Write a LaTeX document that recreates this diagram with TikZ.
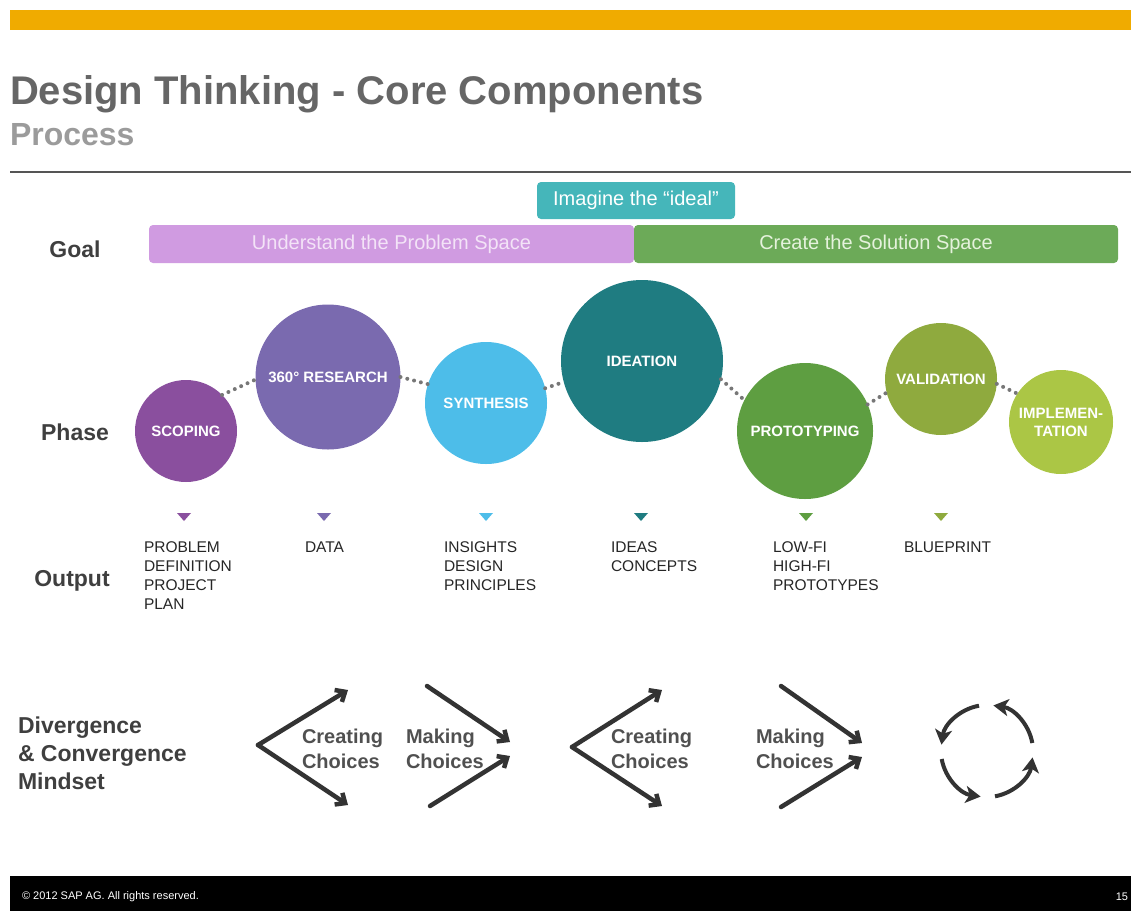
\documentclass[tikz,border=0pt]{standalone}
\usepackage{fontspec}
\setmainfont{Liberation Sans}
\usetikzlibrary{arrows.meta}

\definecolor{sapgold}{HTML}{F0AB00}
\definecolor{titlegray}{HTML}{666666}
\definecolor{subgray}{HTML}{9B9B9B}
\definecolor{rulegray}{HTML}{555555}
\definecolor{labelgray}{HTML}{3F3F3F}
\definecolor{idealcol}{HTML}{45B6BA}
\definecolor{problemcol}{HTML}{D09BE1}
\definecolor{problemtext}{HTML}{F3E3F7}
\definecolor{solutioncol}{HTML}{6CAA58}
\definecolor{solutiontext}{HTML}{E5F2DC}
\definecolor{scopecol}{HTML}{8A4F9E}
\definecolor{researchcol}{HTML}{7A6AAF}
\definecolor{synthcol}{HTML}{4DBDE9}
\definecolor{ideacol}{HTML}{1F7C81}
\definecolor{protocol}{HTML}{5E9E41}
\definecolor{validcol}{HTML}{8FAA3E}
\definecolor{implcol}{HTML}{ABC645}
\definecolor{dotgray}{HTML}{777777}
\definecolor{choicegray}{HTML}{505050}
\definecolor{arrowgray}{HTML}{333333}

\begin{document}
\begin{tikzpicture}[x=1pt, y=-1pt]
\tikzset{ >=latex, inner sep=0pt, outer sep=0pt,
  rowlabel/.style={font=\fontsize{23}{28}\selectfont\bfseries, text=labelgray, align=left},
  goalbar/.style={rectangle, rounded corners=4pt, fill=#1, minimum height=38pt, font=\fontsize{20}{24}\selectfont},
  phase/.style={circle, fill=#1, text=white, font=\fontsize{15}{18}\selectfont\bfseries, align=center},
  outtext/.style={anchor=north west, align=left, text=black!85, font=\fontsize{15.5}{19}\selectfont},
  phasedots/.style={draw=dotgray, line width=4pt, line cap=round, dash pattern=on 0pt off 7pt},
  choicetext/.style={anchor=west, align=left, text=choicegray, font=\fontsize{20}{25}\selectfont\bfseries},
  mindarrow/.style={draw=arrowgray, line width=4.5pt, line cap=round, -{Straight Barb[length=8pt, width=14pt]}},
  cyclearrow/.style={draw=arrowgray, line width=4pt, -{Stealth[length=15pt, width=17pt, inset=4pt]}},
}

\useasboundingbox (0,0) rectangle (1131,911);

%%% Cabecalho

% barra dourada
\fill[sapgold] (10,10) rectangle (1131,30);

% titulo
\node[anchor=base west, font=\fontsize{40}{48}\selectfont\bfseries, text=titlegray] (title) at (10,104) {Design Thinking - Core Components};
\node[anchor=base west, font=\fontsize{32}{38}\selectfont\bfseries, text=subgray] (subtitle) at (10,145) {Process};
\draw[rulegray, line width=1.5pt] (10,172) -- (1131,172);

%%% Linhas

\node[rowlabel] (goal)   at (75,249) {Goal};
\node[rowlabel] (phase)  at (75,432) {Phase};
\node[rowlabel] (output) at (72,581) {Output};
\node[rowlabel, anchor=west] (mindset) at (18,753) {Divergence\\\& Convergence\\Mindset};

%%% Goal

\node[goalbar=problemcol, minimum width=485pt, text=problemtext] (problem) at (391.5,244) {Understand the Problem Space};
\node[goalbar=solutioncol, minimum width=484pt, text=solutiontext] (solution) at (876,244) {Create the Solution Space};
\node[goalbar=idealcol, minimum width=198pt, minimum height=37pt, text=white] (ideal) at (636,200.5) {Imagine the “ideal”};

%%% Fases

\node[phase=scopecol, minimum size=102pt]     (scoping)        at (186,431)  {SCOPING};
\node[phase=researchcol, minimum size=145pt]  (research)       at (328,377)  {360° RESEARCH};
\node[phase=synthcol, minimum size=122pt]     (synthesis)      at (486,403)  {SYNTHESIS};
\node[phase=ideacol, minimum size=162pt]      (ideation)       at (642,361)  {IDEATION};
\node[phase=protocol, minimum size=136pt]     (prototyping)    at (805,431)  {PROTOTYPING};
\node[phase=validcol, minimum size=112pt]     (validation)     at (941,379)  {VALIDATION};
\node[phase=implcol, minimum size=104pt]      (implementation) at (1061,422) {IMPLEMEN-\\TATION};

% pontilhado entre fases
\draw[phasedots] (scoping.45)      -- (research.182);
\draw[phasedots] (research.0)      -- (synthesis.162);
\draw[phasedots] (synthesis.14)    -- (ideation.195);
\draw[phasedots] (ideation.-13)    -- (prototyping.153);
\draw[phasedots] (prototyping.23)  -- (validation.194);
\draw[phasedots] (validation.-5)   -- (implementation.147);

%%% Output

% triangulos
\fill[scopecol]    (177,513) -- (191,513) -- (184,521) -- cycle;
\fill[researchcol] (317,513) -- (331,513) -- (324,521) -- cycle;
\fill[synthcol]    (479,513) -- (493,513) -- (486,521) -- cycle;
\fill[ideacol]     (634,513) -- (648,513) -- (641,521) -- cycle;
\fill[protocol]    (799,513) -- (813,513) -- (806,521) -- cycle;
\fill[validcol]    (934,513) -- (948,513) -- (941,521) -- cycle;

\node[outtext] (scopeout)    at (144,542) {PROBLEM\\DEFINITION\\PROJECT\\PLAN};
\node[outtext] (researchout) at (305,542) {DATA};
\node[outtext] (synthout)    at (444,542) {INSIGHTS\\DESIGN\\PRINCIPLES};
\node[outtext] (ideaout)     at (611,542) {IDEAS\\CONCEPTS};
\node[outtext] (protoout)    at (773,542) {LOW-FI\\HIGH-FI\\PROTOTYPES};
\node[outtext] (validout)    at (904,542) {BLUEPRINT};

%%% Mindset

% creating choices 1
\coordinate (div1)     at (258,745);
\coordinate (div1up)   at (348,690);
\coordinate (div1down) at (348,805);
\draw[mindarrow] (div1) -- (div1up);
\draw[mindarrow] (div1) -- (div1down);
\node[choicetext] (create1) at (302,749) {Creating\\Choices};

% making choices 1
\coordinate (con1up)   at (427,686);
\coordinate (con1down) at (430,806);
\coordinate (con1tipa) at (510,742);
\coordinate (con1tipb) at (510,756);
\draw[mindarrow] (con1up) -- (con1tipa);
\draw[mindarrow] (con1down) -- (con1tipb);
\node[choicetext] (make1) at (406,749) {Making\\Choices};

% creating choices 2
\coordinate (div2)     at (572,747);
\coordinate (div2up)   at (662,690);
\coordinate (div2down) at (662,806);
\draw[mindarrow] (div2) -- (div2up);
\draw[mindarrow] (div2) -- (div2down);
\node[choicetext] (create2) at (611,749) {Creating\\Choices};

% making choices 2
\coordinate (con2up)   at (781,686);
\coordinate (con2down) at (781,807);
\coordinate (con2tipa) at (862,743);
\coordinate (con2tipb) at (862,757);
\draw[mindarrow] (con2up) -- (con2tipa);
\draw[mindarrow] (con2down) -- (con2tipb);
\node[choicetext] (make2) at (756,749) {Making\\Choices};

% ciclo
\coordinate (loopc) at (987,751);
\draw[cyclearrow] (loopc) ++(-100:46) arc[start angle=-100, end angle=-172, radius=46];
\draw[cyclearrow] (loopc) ++(-190:46) arc[start angle=-190, end angle=-262, radius=46];
\draw[cyclearrow] (loopc) ++(-280:46) arc[start angle=-280, end angle=-352, radius=46];
\draw[cyclearrow] (loopc) ++(-10:46)  arc[start angle=-10, end angle=-82, radius=46];

%%% Rodape
\fill[black] (10,876) rectangle (1131,911);
\node[anchor=west, font=\fontsize{11}{13}\selectfont, text=white] (copyright) at (22,897) {© 2012 SAP AG. All rights reserved.};
\node[anchor=east, font=\fontsize{11}{13}\selectfont, text=white] (pagenum) at (1128,897) {15};

\end{tikzpicture}
\end{document}
